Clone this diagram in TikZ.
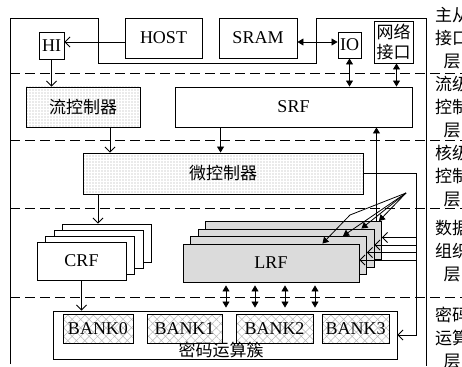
\documentclass[tikz,border=0pt]{standalone}
\usepackage{fontspec}
\setmainfont{Liberation Serif}
\newfontfamily\cjk{Noto Sans CJK SC}
\usepackage{tikz}
\usetikzlibrary{positioning,arrows.meta,calc,patterns.meta}

\begin{document}
\begin{tikzpicture}[
    x=1pt, y=-1pt,
    line width=0.8pt,
    font=\fontsize{18}{23}\selectfont,
    zh/.style={font=\cjk\fontsize{17}{23}\selectfont},
    block/.style={
        draw,
        fill=white,
        inner sep=0pt,
        line width=0.9pt
    },
    ctrl/.style={block, preaction={fill=white},
        pattern={Dots[distance=3pt,radius=0.55pt]}, pattern color=gray!70},
    bank/.style={block, preaction={fill=white},
        pattern={Hatch[angle=45,distance=6pt,line width=0.5pt]}, pattern color=gray!55,
        minimum height=29pt},
    regfile/.style={block, fill=gray!28},
    layerline/.style={dash pattern=on 10pt off 5pt},
    barb/.style={-{Straight Barb[length=5pt,width=10pt]}},
    tri/.style={-{Triangle[length=6pt,width=7pt]}},
    dbl/.style={{Triangle[length=6pt,width=7pt]}-{Triangle[length=6pt,width=7pt]}}
]
    \useasboundingbox (0,0) rectangle (462,366);

    % frame and layer borders
    \draw (10,364) -- (10,18) -- (98,18) -- (98,63) -- (316,63) -- (316,18) -- (426,18) -- (426,366);
    \foreach \y in {73,140,208,297}
        \draw[layerline] (10,\y) -- (462,\y);

    % host interface layer
    \node[block, minimum width=77pt, minimum height=40pt] (host) at (163.5,38) {HOST};
    \node[block, minimum width=78pt, minimum height=40pt] (sram) at (258,38) {SRAM};
    \node[block, minimum width=25pt, minimum height=27pt] (hi) at (51.5,45.5) {HI};
    \node[block, minimum width=23pt, minimum height=26pt] (io) at (349.5,45) {IO};
    \node[block, zh, font=\cjk\fontsize{17}{20}\selectfont, align=center,
          minimum width=39pt, minimum height=42pt] (net) at (393.5,42) {网络\\接口};

    % stream level
    \node[ctrl, zh, minimum width=114pt, minimum height=40pt] (flow) at (83,107) {流控制器};
    \node[block, minimum width=237pt, minimum height=40pt] (srf) at (293.5,107) {SRF};

    % kernel level
    \node[ctrl, zh, minimum width=280pt, minimum height=41pt] (micro) at (223,173.5) {微控制器};

    % data organisation
    \foreach \i in {3,2,1}
        \node[block, minimum width=89pt, minimum height=38pt] (crf\i) at ({81.5+8.5*\i},{261-6*\i}) {};
    \node[block, minimum width=89pt, minimum height=38pt] (crf) at (81.5,261) {CRF};
    \foreach \i in {3,2,1}
        \node[regfile, minimum width=176pt, minimum height=38pt] (lrf\i) at ({271+7.5*\i},{263-7.5*\i}) {};
    \node[regfile, minimum width=176pt, minimum height=38pt] (lrf0) at (271,263) {LRF};

    % cipher cluster
    \node[block, minimum width=344pt, minimum height=48pt] (cipher) at (225,335) {};
    \node[bank, minimum width=70pt] (bank0) at (98,328.5) {BANK0};
    \node[bank, minimum width=75pt] (bank1) at (184.5,328.5) {BANK1};
    \node[bank, minimum width=77pt] (bank2) at (274.5,328.5) {BANK2};
    \node[bank, minimum width=67pt] (bank3) at (355.5,328.5) {BANK3};
    \node[zh, anchor=south, inner sep=1pt] (ciphertxt) at ([xshift=-4pt]cipher.south) {密码运算簇};

    % layer names
    \node[zh, align=center] (lay1) at (452,38) {主从\\接口\\层};
    \node[zh, align=center] (lay2) at (452,107.5) {流级\\控制\\层};
    \node[zh, align=center] (lay3) at (452,176) {核级\\控制\\层};
    \node[zh, align=center] (lay4) at (452,251) {数据\\组织\\层};
    \node[zh, align=center] (lay5) at (452,338) {密码\\运算\\层};

    % connections
    \draw[barb] ([yshift=-4pt]host.west) -- ([yshift=3.5pt]hi.east);
    \draw[dbl] ([yshift=-4pt]sram.east) -- ([yshift=3pt]io.west);
    \draw[barb] (hi.south) -- (hi.south |- flow.north);
    \draw[dbl] (io.south) -- (io.south |- srf.north);
    \draw[dbl] ([xshift=3pt]net.south) -- ([xshift=3pt]net.south |- srf.north);

    \coordinate (f1) at ($(flow.south)+(27,0)$);
    \draw[barb] (f1) -- (f1 |- micro.north);
    \coordinate (s1) at ($(srf.south west)+(46,0)$);
    \draw[tri] (s1) -- (s1 |- micro.north);
    \coordinate (up) at ($(srf.south east)+(-36,0)$);
    \draw[tri] (up |- lrf3.north) -- (up);

    \coordinate (c1) at ($(crf3.north)+(-9,0)$);
    \draw[barb] (c1 |- micro.south) -- (c1);
    \draw[barb] (crf.south) -- (crf.south |- cipher.north);

    \coordinate (bus) at ($(micro.east)+(53,0)$);
    \draw[barb] (micro.east) -- (bus) |- (cipher.east);
    \foreach \i in {3,2,1,0} {
        \coordinate (in\i) at ($(lrf\i.east)+(0,-3)$);
        \draw[barb] (bus |- in\i) -- (in\i);
    }

    \coordinate (fan) at (406,193);
    \coordinate (kink) at (350,215);
    \foreach \i/\d in {3/3,2/13,1/24}
        \draw[tri] (fan) -- ($(lrf\i.north east)+(-\d,0)$);
    \draw[tri] (fan) -- (kink) -- ($(lrf0.north east)+(-37,0)$);

    \foreach \x [count=\k] in {226,255,285,315} {
        \coordinate (d\k) at (\x,0);
        \draw[dbl, shorten <=3pt, shorten >=3pt] (d\k |- lrf0.south) -- (d\k |- cipher.north);
    }
\end{tikzpicture}
\end{document}
